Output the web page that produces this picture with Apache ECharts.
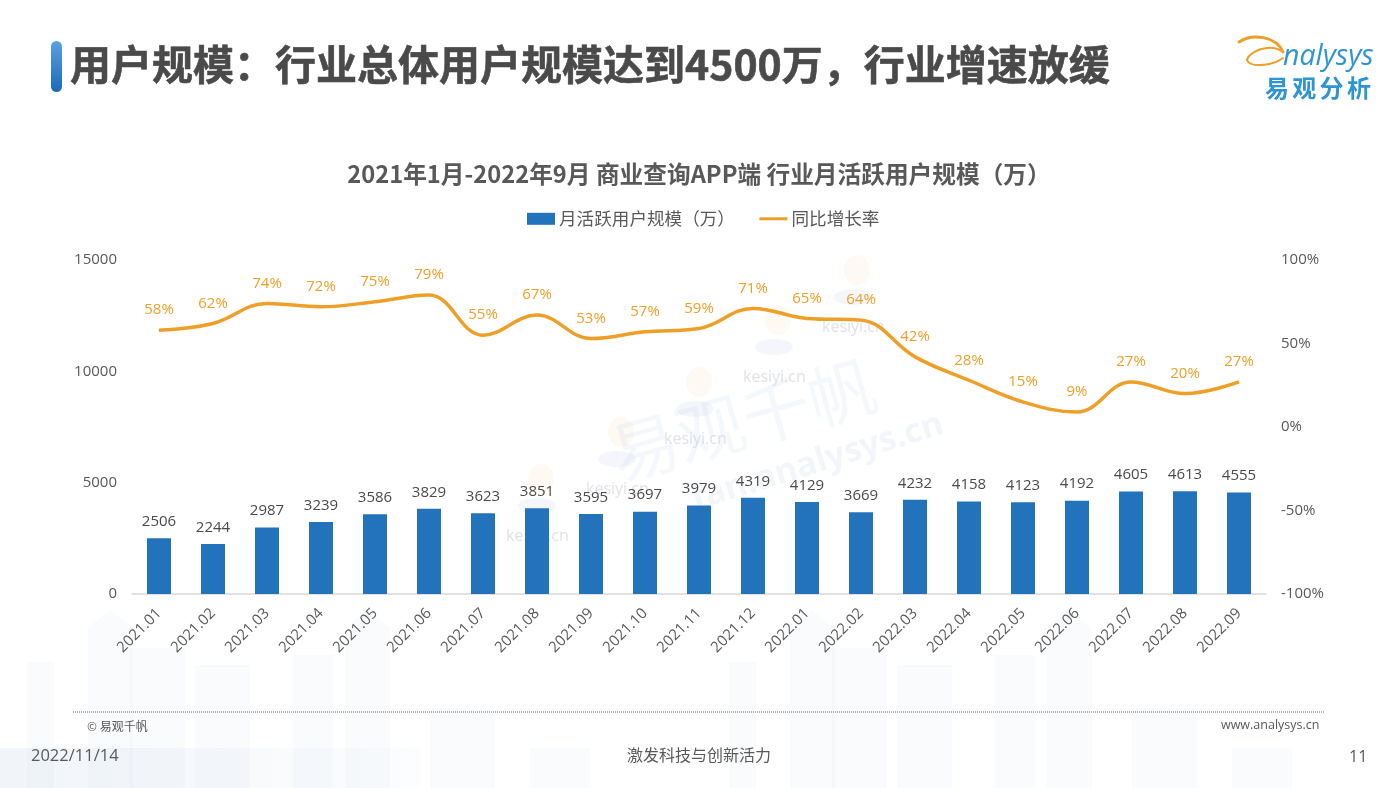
<!DOCTYPE html>
<html><head><meta charset="utf-8">
<style>html,body{margin:0;padding:0;background:#fff}#c{width:1400px;height:788px}</style>
<script src="https://cdn.jsdelivr.net/npm/echarts@6/dist/echarts.min.js"></script>
</head><body><div id="c"></div>
<script>
const months=['2021.01','2021.02','2021.03','2021.04','2021.05','2021.06','2021.07','2021.08','2021.09','2021.10','2021.11','2021.12','2022.01','2022.02','2022.03','2022.04','2022.05','2022.06','2022.07','2022.08','2022.09'];
const mau=[2506,2244,2987,3239,3586,3829,3623,3851,3595,3697,3979,4319,4129,3669,4232,4158,4123,4192,4605,4613,4555];
const yoy=[58,62,74,72,75,79,55,67,53,57,59,71,65,64,42,28,15,9,27,20,27];
const pageTitle='用户规模：行业总体用户规模达到4500万，行业增速放缓';
const chartTitle='2021年1月-2022年9月 商业查询APP端 行业月活跃用户规模（万）';
const barName='月活跃用户规模（万）', lineName='同比增长率';
const FONT='"Open Sans","Noto Sans CJK SC",sans-serif';
const CJK='"Noto Sans CJK SC","Open Sans",sans-serif';
const GREY='#595959', BLUE='#2372bc', ORANGE='#ee9f27', LOGO='#2f95d2';

const txt=(x,y,text,style,extra)=>Object.assign({type:'text',x,y,silent:true,style:Object.assign({text,fontFamily:CJK,fill:GREY,fontSize:14,textVerticalAlign:'middle'},style)},extra||{});
const box=(x,y,w,h,fill)=>({type:'rect',silent:true,z:-5,shape:{x,y,width:w,height:h},style:{fill}});
const curve=(x1,y1,cx1,cy1,cx2,cy2,x2,y2,w)=>({type:'bezierCurve',silent:true,shape:{x1,y1,cpx1:cx1,cpy1:cy1,cpx2:cx2,cpy2:cy2,x2,y2},style:{stroke:ORANGE,fill:'none',lineWidth:w,lineCap:'round'}});

// faint decoration behind the chart: skyline (repeats every 702px), bottom band, watermarks
const towers=[[27,662,27,126],[88,628,45,160],[130,648,55,140],[195,665,55,123],[293,655,40,133],[345,628,45,160],[430,708,35,80],[465,714,30,74],[530,748,60,40]];
const skyline=[];
[0,702].forEach(dx=>{
  towers.forEach(b=>skyline.push(box(b[0]+dx,b[1],b[2],b[3],'rgba(218,228,238,0.14)')));
  skyline.push({type:'polygon',silent:true,z:-5,shape:{points:[[88+dx,628],[110+dx,610],[133+dx,628]]},style:{fill:'rgba(218,228,238,0.14)'}});
  skyline.push({type:'polygon',silent:true,z:-5,shape:{points:[[345+dx,628],[367+dx,610],[390+dx,628]]},style:{fill:'rgba(218,228,238,0.14)'}});
});
skyline.push({type:'rect',silent:true,z:-6,shape:{x:0,y:748,width:420,height:40},style:{fill:new echarts.graphic.LinearGradient(0,0,1,0,[{offset:0,color:'#f1f5f9'},{offset:1,color:'#fcfdfe'}])}});
const runners=[[506,536],[586,489],[664,439],[743,377],[822,327]];
const marks=[];
runners.forEach(p=>{
  marks.push({type:'ellipse',silent:true,z:-4,shape:{cx:p[0]+35,cy:p[1]-57,rx:13,ry:15},style:{fill:'rgba(245,190,120,0.09)'}});
  marks.push({type:'ellipse',silent:true,z:-4,shape:{cx:p[0]+31,cy:p[1]-30,rx:19,ry:8},style:{fill:'rgba(150,165,215,0.1)'}});
  marks.push(txt(p[0],p[1],'kesiyi.cn',{fontSize:16,fontFamily:FONT,fill:'rgba(120,130,150,0.24)'},{z:-4}));
});
marks.push(txt(612,456,'易观千帆',{fontSize:68,fill:'rgba(190,205,230,0.17)'},{z:-4,rotation:0.27}));
marks.push(txt(693,501,'fan.analysys.cn',{fontSize:34,fontWeight:'bold',fontFamily:FONT,fill:'rgba(190,205,230,0.2)'},{z:-4,rotation:0.3}));

const chart=echarts.init(document.getElementById('c'),null,{renderer:'canvas'});
chart.setOption({
  animation:false,
  backgroundColor:'#fff',
  textStyle:{fontFamily:FONT},
  title:{text:chartTitle,left:694,textAlign:'center',top:157,textStyle:{fontFamily:CJK,fontSize:23.7,fontWeight:'bold',color:GREY}},
  legend:{top:210,left:527,padding:0,itemGap:23,itemWidth:28,itemHeight:12,textStyle:{fontFamily:CJK,fontSize:17.6,color:GREY,padding:[0,0,0,-1]},
    data:[{name:barName,icon:'rect'},{name:lineName,itemStyle:{opacity:0},lineStyle:{width:3}}]},
  grid:{left:132,right:134,top:260,bottom:194},
  xAxis:{type:'category',data:months,axisTick:{show:false},
    axisLine:{lineStyle:{color:'#d9d9d9',width:1.5}},
    axisLabel:{rotate:45,interval:0,fontSize:15,color:GREY,margin:17,fontFamily:FONT}},
  yAxis:[
    {type:'value',min:0,max:15000,interval:5000,splitLine:{show:false},axisLine:{show:false},axisTick:{show:false},
     axisLabel:{fontSize:15,color:GREY,margin:15,fontFamily:FONT,padding:[8,0,0,0],verticalAlignMaxLabel:'middle',verticalAlignMinLabel:'middle',formatter:v=>String(v)}},
    {type:'value',min:-100,max:100,interval:50,splitLine:{show:false},axisLine:{show:false},axisTick:{show:false},
     axisLabel:{fontSize:15,color:GREY,margin:15,fontFamily:FONT,padding:[8,0,0,0],verticalAlignMaxLabel:'middle',verticalAlignMinLabel:'middle',formatter:'{value}%'}}
  ],
  series:[
    {name:barName,type:'bar',data:mau,barWidth:24,itemStyle:{color:BLUE},
     label:{show:true,position:'top',distance:9,fontSize:15,color:'#4a4a4a',fontFamily:FONT}},
    {name:lineName,type:'line',yAxisIndex:1,data:yoy,smooth:0.4,symbol:'circle',symbolSize:1,showSymbol:true,lineStyle:{color:ORANGE,width:3.5},itemStyle:{color:ORANGE},
     label:{show:true,position:'top',distance:12,fontSize:15,color:ORANGE,fontFamily:FONT,formatter:'{c}%'}}
  ],
  graphic:[
    ...skyline,...marks,
    {type:'rect',silent:true,shape:{x:51,y:41,width:11,height:51,r:5.5},
     style:{fill:new echarts.graphic.LinearGradient(0,0,0,1,[{offset:0,color:'#5aa3e0'},{offset:1,color:'#1b69b8'}])}},
    txt(70,64,pageTitle,{fontSize:41,fontWeight:'bold',fill:'#4a4a4a',stroke:'#4a4a4a',lineWidth:0.6}),
    curve(1239,42,1252,33,1276,36,1283,52,3),
    curve(1283,52,1270,42,1248,52,1247,60,2),
    curve(1247,60,1250,68,1272,66,1283,58,2),
    txt(1283,57,'nalysys',{fontSize:28.5,fontStyle:'italic',fontFamily:'"Open Sans",sans-serif',fill:LOGO}),
    ...['易','观','分','析'].map((c,i)=>txt(1265+i*27.3,88,c,{fontSize:24,fontWeight:'bold',fill:LOGO})),
    {type:'line',silent:true,shape:{x1:73,y1:712,x2:1325,y2:712},style:{stroke:'#666',lineWidth:1,lineDash:[1,1]}},
    txt(87,726,'© 易观千帆',{fontSize:12}),
    txt(1221,725,'www.analysys.cn',{fontSize:12.5,fontFamily:FONT}),
    txt(31,756,'2022/11/14',{fontSize:16.5,fontFamily:FONT}),
    txt(627,755,'激发科技与创新活力',{fontSize:16}),
    txt(1349,757,'11',{fontSize:16,fontFamily:FONT})
  ]
});
</script></body></html>
